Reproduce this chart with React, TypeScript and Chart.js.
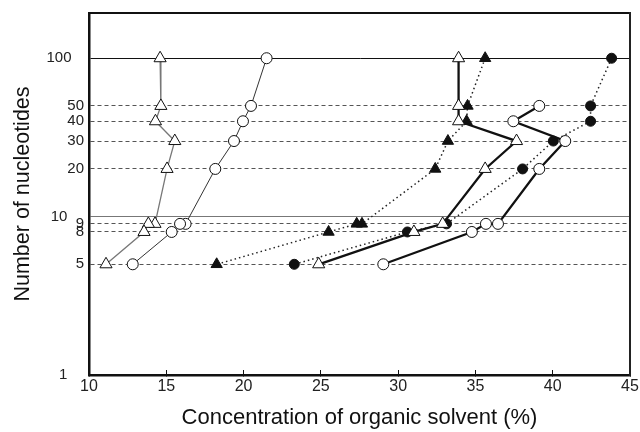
import { useEffect, useRef } from "react";
import { Chart, registerables } from "chart.js";

Chart.register(...registerables);

// Axis ticks
const yTickValues = [1, 5, 8, 9, 10, 20, 30, 40, 50, 100];
const yTickLabels = ["1    ", "5", "8", "9", "10    ", "20", "30", "40", "50", "100   "];
const xTickValues = [10, 15, 20, 25, 30, 35, 40, 45];

// Series 1: open triangles, thin grey line
const s1Nucleotides = [100, 50, 40, 30, 20, 9, 9, 8, 5];
const s1Solvent = [14.6, 14.65, 14.3, 15.55, 15.05, 14.27, 13.84, 13.56, 11.1];

// Series 2: open circles, thin line
const s2Nucleotides = [100, 50, 40, 30, 20, 9, 9, 8, 5];
const s2Solvent = [21.49, 20.48, 19.96, 19.38, 18.17, 16.25, 15.89, 15.35, 12.83];

// Series 3: filled triangles, dotted line
const s3Nucleotides = [100, 50, 40, 30, 20, 9, 9, 8, 5];
const s3Solvent = [35.63, 34.49, 34.43, 33.22, 32.4, 27.66, 27.32, 25.5, 18.26];

// Series 4: open triangles, thick line
const s4Nucleotides = [100, 50, 40, 30, 20, 9, 8, 5];
const s4Solvent = [33.91, 33.91, 33.91, 37.66, 35.63, 32.88, 31.02, 24.86];

// Series 5: filled circles, dotted line
const s5Nucleotides = [100, 50, 40, 30, 20, 9, 8, 5];
const s5Solvent = [43.81, 42.45, 42.45, 40.04, 38.05, 33.13, 30.6, 23.28];

// Series 6: open circles, thick line
const s6Nucleotides = [50, 40, 30, 20, 9, 9, 8, 5];
const s6Solvent = [39.13, 37.45, 40.81, 39.13, 36.46, 35.68, 34.77, 29.04];

const pts = (xs: number[], ys: number[]) => xs.map((x, i) => ({ x, y: ys[i] }));

const FONT = "'Liberation Sans', Arial, Helvetica, sans-serif";

export default function App() {
  const ref = useRef<HTMLCanvasElement | null>(null);

  useEffect(() => {
    if (!ref.current) return;
    const chart = new Chart(ref.current, {
      type: "scatter",
      data: {
        datasets: [
          {
            data: pts(s1Solvent, s1Nucleotides),
            showLine: true,
            borderColor: "#777",
            borderWidth: 1.3,
            pointStyle: "triangle",
            pointRadius: 7,
            pointBackgroundColor: "#fff",
            pointBorderColor: "#111",
            pointBorderWidth: 1,
          },
          {
            data: pts(s2Solvent, s2Nucleotides),
            showLine: true,
            borderColor: "#333",
            borderWidth: 1,
            pointStyle: "circle",
            pointRadius: 5.5,
            pointBackgroundColor: "#fff",
            pointBorderColor: "#111",
            pointBorderWidth: 1,
          },
          {
            data: pts(s4Solvent, s4Nucleotides),
            showLine: true,
            borderColor: "#111",
            borderWidth: 2.3,
            pointStyle: "triangle",
            pointRadius: 7,
            pointBackgroundColor: "#fff",
            pointBorderColor: "#111",
            pointBorderWidth: 1,
          },
          {
            data: pts(s6Solvent, s6Nucleotides),
            showLine: true,
            borderColor: "#111",
            borderWidth: 2.3,
            pointStyle: "circle",
            pointRadius: 5.5,
            pointBackgroundColor: "#fff",
            pointBorderColor: "#111",
            pointBorderWidth: 1,
          },
          {
            data: pts(s3Solvent, s3Nucleotides),
            showLine: true,
            borderColor: "#222",
            borderWidth: 1.5,
            borderDash: [1.5, 3],
            pointStyle: "triangle",
            pointRadius: 6.5,
            pointBackgroundColor: "#111",
            pointBorderColor: "#111",
            pointBorderWidth: 1,
          },
          {
            data: pts(s5Solvent, s5Nucleotides),
            showLine: true,
            borderColor: "#222",
            borderWidth: 1.5,
            borderDash: [1.5, 3],
            pointStyle: "circle",
            pointRadius: 5,
            pointBackgroundColor: "#111",
            pointBorderColor: "#111",
            pointBorderWidth: 1,
          },
        ],
      },
      options: {
        animation: false,
        responsive: false,
        devicePixelRatio: 1,
        layout: { padding: { left: 0, right: 10, top: 13, bottom: 0 } },
        plugins: { legend: { display: false }, tooltip: { enabled: false } },
        elements: { line: { tension: 0 } },
        scales: {
          x: {
            type: "linear",
            position: "bottom",
            min: 10,
            max: 45,
            afterBuildTicks: (s: any) => {
              s.ticks = xTickValues.map((v) => ({ value: v }));
            },
            afterFit: (s: any) => {
              s.height = 57;
              s.paddingLeft = 0;
              s.paddingRight = 0;
            },
            ticks: {
              autoSkip: false,
              maxRotation: 0,
              padding: 7,
              color: "#222",
              font: { family: FONT, size: 16 },
            },
            grid: {
              drawOnChartArea: false,
              drawTicks: true,
              tickLength: -5,
              color: "#111",
              lineWidth: 1,
            },
            border: { display: true, color: "#111", width: 2.5 },
            title: {
              display: true,
              text: "Concentration of organic solvent (%)",
              color: "#111",
              font: { family: FONT, size: 22 },
              padding: { top: 0, bottom: 1 },
            },
          },
          y: {
            type: "logarithmic",
            position: "left",
            min: 1,
            max: 193,
            bounds: "data",
            afterBuildTicks: (s: any) => {
              s.ticks = yTickValues.map((v) => ({ value: v }));
            },
            afterFit: (s: any) => {
              s.width = 89;
              s.paddingTop = 0;
              s.paddingBottom = 0;
            },
            ticks: {
              autoSkip: false,
              padding: 5,
              color: "#222",
              font: { family: FONT, size: 15 },
              callback: (v: any) => {
                const i = yTickValues.indexOf(Number(v));
                return i >= 0 ? yTickLabels[i] : "";
              },
            },
            grid: {
              drawTicks: false,
              lineWidth: 1,
              color: (ctx: any) => {
                const v = ctx.tick ? ctx.tick.value : null;
                if (v === 1) return "rgba(0,0,0,0)";
                if (v === 100) return "#111";
                if (v === 10) return "#777";
                return "#555";
              },
            },
            border: {
              display: true,
              color: "#111",
              width: 2.5,
              dash: (ctx: any) => {
                const v = ctx.tick ? ctx.tick.value : null;
                if (v === null || v === 100 || v === 10) return [];
                return [4, 3];
              },
            },
            title: {
              display: true,
              text: "Number of nucleotides",
              color: "#111",
              font: { family: FONT, size: 21.5 },
              padding: { top: 10, bottom: 0 },
            },
          },
          xTop: {
            type: "linear",
            position: "top",
            display: true,
            min: 10,
            max: 45,
            ticks: { display: false },
            grid: { display: false, drawTicks: false },
            border: { display: true, color: "#111", width: 2 },
            afterFit: (s: any) => {
              s.height = 0;
              s.paddingLeft = 0;
              s.paddingRight = 0;
            },
          },
          yRight: {
            type: "linear",
            position: "right",
            display: true,
            min: 0,
            max: 1,
            ticks: { display: false },
            grid: { display: false, drawTicks: false },
            border: { display: true, color: "#222", width: 2 },
            afterFit: (s: any) => {
              s.width = 0;
              s.paddingTop = 0;
              s.paddingBottom = 0;
            },
          },
        },
      } as any,
    });
    return () => chart.destroy();
  }, []);

  return (
    <div style={{ position: "absolute", left: 0, top: 0, width: 640, height: 432, background: "#fff" }}>
      <canvas ref={ref} width={640} height={432} style={{ display: "block", width: 640, height: 432 }} />
    </div>
  );
}
